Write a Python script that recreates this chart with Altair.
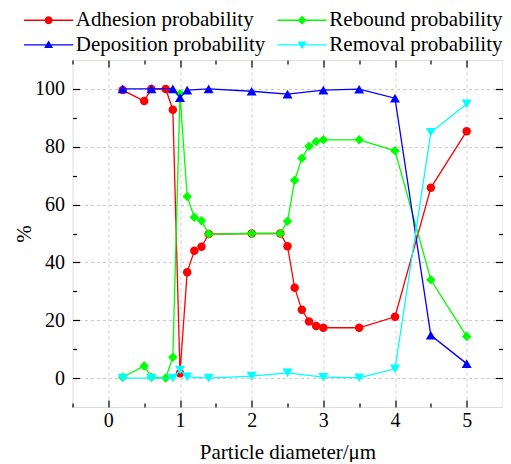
import altair as alt
import pandas as pd

# ---- data ----
x_ar = [0.2, 0.5, 0.6, 0.8, 0.9, 1.0, 1.1, 1.2, 1.3, 1.4, 2.0, 2.4, 2.5, 2.6, 2.7, 2.8, 2.9, 3.0, 3.5, 4.0, 4.5, 5.0]
adhesion = [99.6, 95.8, 100, 100, 92.8, 1.7, 36.6, 44.0, 45.4, 49.8, 50.0, 50.0, 45.6, 31.2, 23.6, 19.6, 18.0, 17.4, 17.4, 21.2, 65.8, 85.4]
rebound = [0.3, 4.2, 0.3, 0.0, 7.2, 98.3, 62.8, 55.6, 54.4, 49.8, 50.0, 50.0, 54.2, 68.4, 76.0, 80.2, 81.8, 82.4, 82.4, 78.6, 34.0, 14.4]

x_dr = [0.2, 0.6, 0.9, 1.0, 1.1, 1.4, 2.0, 2.5, 3.0, 3.5, 4.0, 4.5, 5.0]
deposition = [100, 100, 100, 97.0, 99.6, 100, 99.2, 98.2, 99.6, 99.9, 96.8, 14.8, 5.0]
removal = [0.0, 0.0, 0.0, 2.8, 0.4, 0.0, 0.7, 1.8, 0.3, 0.1, 3.2, 85.0, 94.8]

series_names = ["Adhesion probability", "Rebound probability",
                "Deposition probability", "Removal probability"]
series_colors = ["#ff0000", "#00ff00", "#0000ff", "#00ffff"]
series_shapes = ["circle", "diamond", "triangle-up", "triangle-down"]
x_ticks = [0, 1, 2, 3, 4, 5]
x_minor = [-0.5, 0.5, 1.5, 2.5, 3.5, 4.5]
y_ticks = [0, 20, 40, 60, 80, 100]
y_minor = [10, 30, 50, 70, 90]

rows = []
for name, xs, ys in zip(series_names, [x_ar, x_ar, x_dr, x_dr],
                        [adhesion, rebound, deposition, removal]):
    for xv, yv in zip(xs, ys):
        rows.append({"series": name, "d": xv, "p": yv})
df = pd.DataFrame(rows)

FONT = "Liberation Serif"
XS = alt.Scale(domain=[-0.5, 5.5], nice=False, zero=False)
YS = alt.Scale(domain=[-10, 110], nice=False, zero=False)


def axis(**kw):
    base = dict(domain=False, grid=False, labels=False, ticks=False, title=None,
                tickColor="black", tickWidth=1.2)
    base.update(kw)
    return alt.Axis(**base)


x_axes = [
    axis(orient="bottom", values=x_ticks, ticks=True, tickSize=7, offset=-7,
         labels=True, labelFont=FONT, labelFontSize=20, labelColor="black",
         labelPadding=3, title="Particle diameter/μm", titleFont=FONT,
         titleFontSize=21, titleFontWeight="normal", titleColor="black",
         titlePadding=11),
    axis(orient="bottom", values=x_minor, ticks=True, tickSize=4, offset=-4),
    axis(orient="top", values=x_ticks, ticks=True, tickSize=7, offset=-7),
    axis(orient="top", values=x_minor, ticks=True, tickSize=4, offset=-4),
    axis(orient="bottom", values=x_ticks, grid=True, gridColor="#cccccc",
         gridDash=[3, 3], gridWidth=1),
]
y_axes = [
    axis(orient="left", values=y_ticks, ticks=True, tickSize=7, offset=-7,
         labels=True, labelFont=FONT, labelFontSize=20, labelColor="black",
         labelPadding=8, title="%", titleFont=FONT, titleFontSize=21,
         titleFontWeight="normal", titleColor="black", titlePadding=0),
    axis(orient="left", values=y_minor, ticks=True, tickSize=4, offset=-4),
    axis(orient="right", values=y_ticks, ticks=True, tickSize=7, offset=-7),
    axis(orient="right", values=y_minor, ticks=True, tickSize=4, offset=-4),
    axis(orient="left", values=y_ticks, grid=True, gridColor="#cccccc",
         gridDash=[3, 3], gridWidth=1),
]

sizes = [72, 90, 100, 100]
layers = []
ai = 0
for name, col, shp, sz in zip(series_names, series_colors, series_shapes, sizes):
    base = alt.Chart(df).transform_filter(alt.datum.series == name)
    xa = x_axes[ai] if ai < len(x_axes) else None
    ya = y_axes[ai] if ai < len(y_axes) else None
    ai += 1
    line = base.mark_line(strokeWidth=1.3).encode(
        x=alt.X("d:Q", scale=XS, axis=xa),
        y=alt.Y("p:Q", scale=YS, axis=ya),
        color=alt.value(col),
    )
    xa = x_axes[ai] if ai < len(x_axes) else None
    ya = y_axes[ai] if ai < len(y_axes) else None
    ai += 1
    pts = base.mark_point(filled=True, opacity=1, size=sz, shape=shp).encode(
        x=alt.X("d:Q", scale=XS, axis=xa),
        y=alt.Y("p:Q", scale=YS, axis=ya),
        color=alt.value(col),
    )
    layers += [line, pts]

# legend: line + marker symbols (custom paths, unit = sqrt(size)/2 px)
# legend columns are filled top-to-bottom, so order the entries accordingly
legend_order = [series_names[0], series_names[2], series_names[1], series_names[3]]
legend_colors = [series_colors[0], series_colors[2], series_colors[1], series_colors[3]]
seg = "M-8.2,-0.22H8.2V0.22H-8.2Z "
legend_paths = [
    seg + "M1.33,0A1.33,1.33 0 1,1 -1.33,0A1.33,1.33 0 1,1 1.33,0Z",
    seg + "M0,-1.45L1.5,1.1L-1.5,1.1Z",
    seg + "M-1.5,0L0,-1.5L1.5,0L0,1.5Z",
    seg + "M0,1.45L-1.5,-1.1L1.5,-1.1Z",
]


def leg():
    return alt.Legend(orient="none", legendX=-34.4, legendY=-50.5, columns=2,
                      title=None, labelFont=FONT, labelFontSize=21,
                      labelColor="black", labelOffset=16.7, labelLimit=400,
                      symbolSize=36, symbolStrokeWidth=0, columnPadding=10.5,
                      rowPadding=2.8, padding=0, symbolOpacity=1)


legend_layer = alt.Chart(df).transform_filter("false").mark_point(
    filled=True, opacity=1).encode(
    x=alt.X("d:Q", scale=XS, axis=None),
    y=alt.Y("p:Q", scale=YS, axis=None),
    color=alt.Color("series:N", scale=alt.Scale(domain=legend_order, range=legend_colors),
                    legend=leg()),
    shape=alt.Shape("series:N", scale=alt.Scale(domain=legend_order, range=legend_paths),
                    legend=leg()),
)
layers.append(legend_layer)

chart = alt.layer(*layers).resolve_axis(x="independent", y="independent").properties(
    width=430, height=347, autosize="none",
    padding={"left": 64.5, "top": 52, "right": 0.5, "bottom": 55},
).configure_view(stroke="black", strokeWidth=1.5).configure(font=FONT, background="white")

chart.save("out.html", embed_options={"renderer": "svg", "actions": False})
